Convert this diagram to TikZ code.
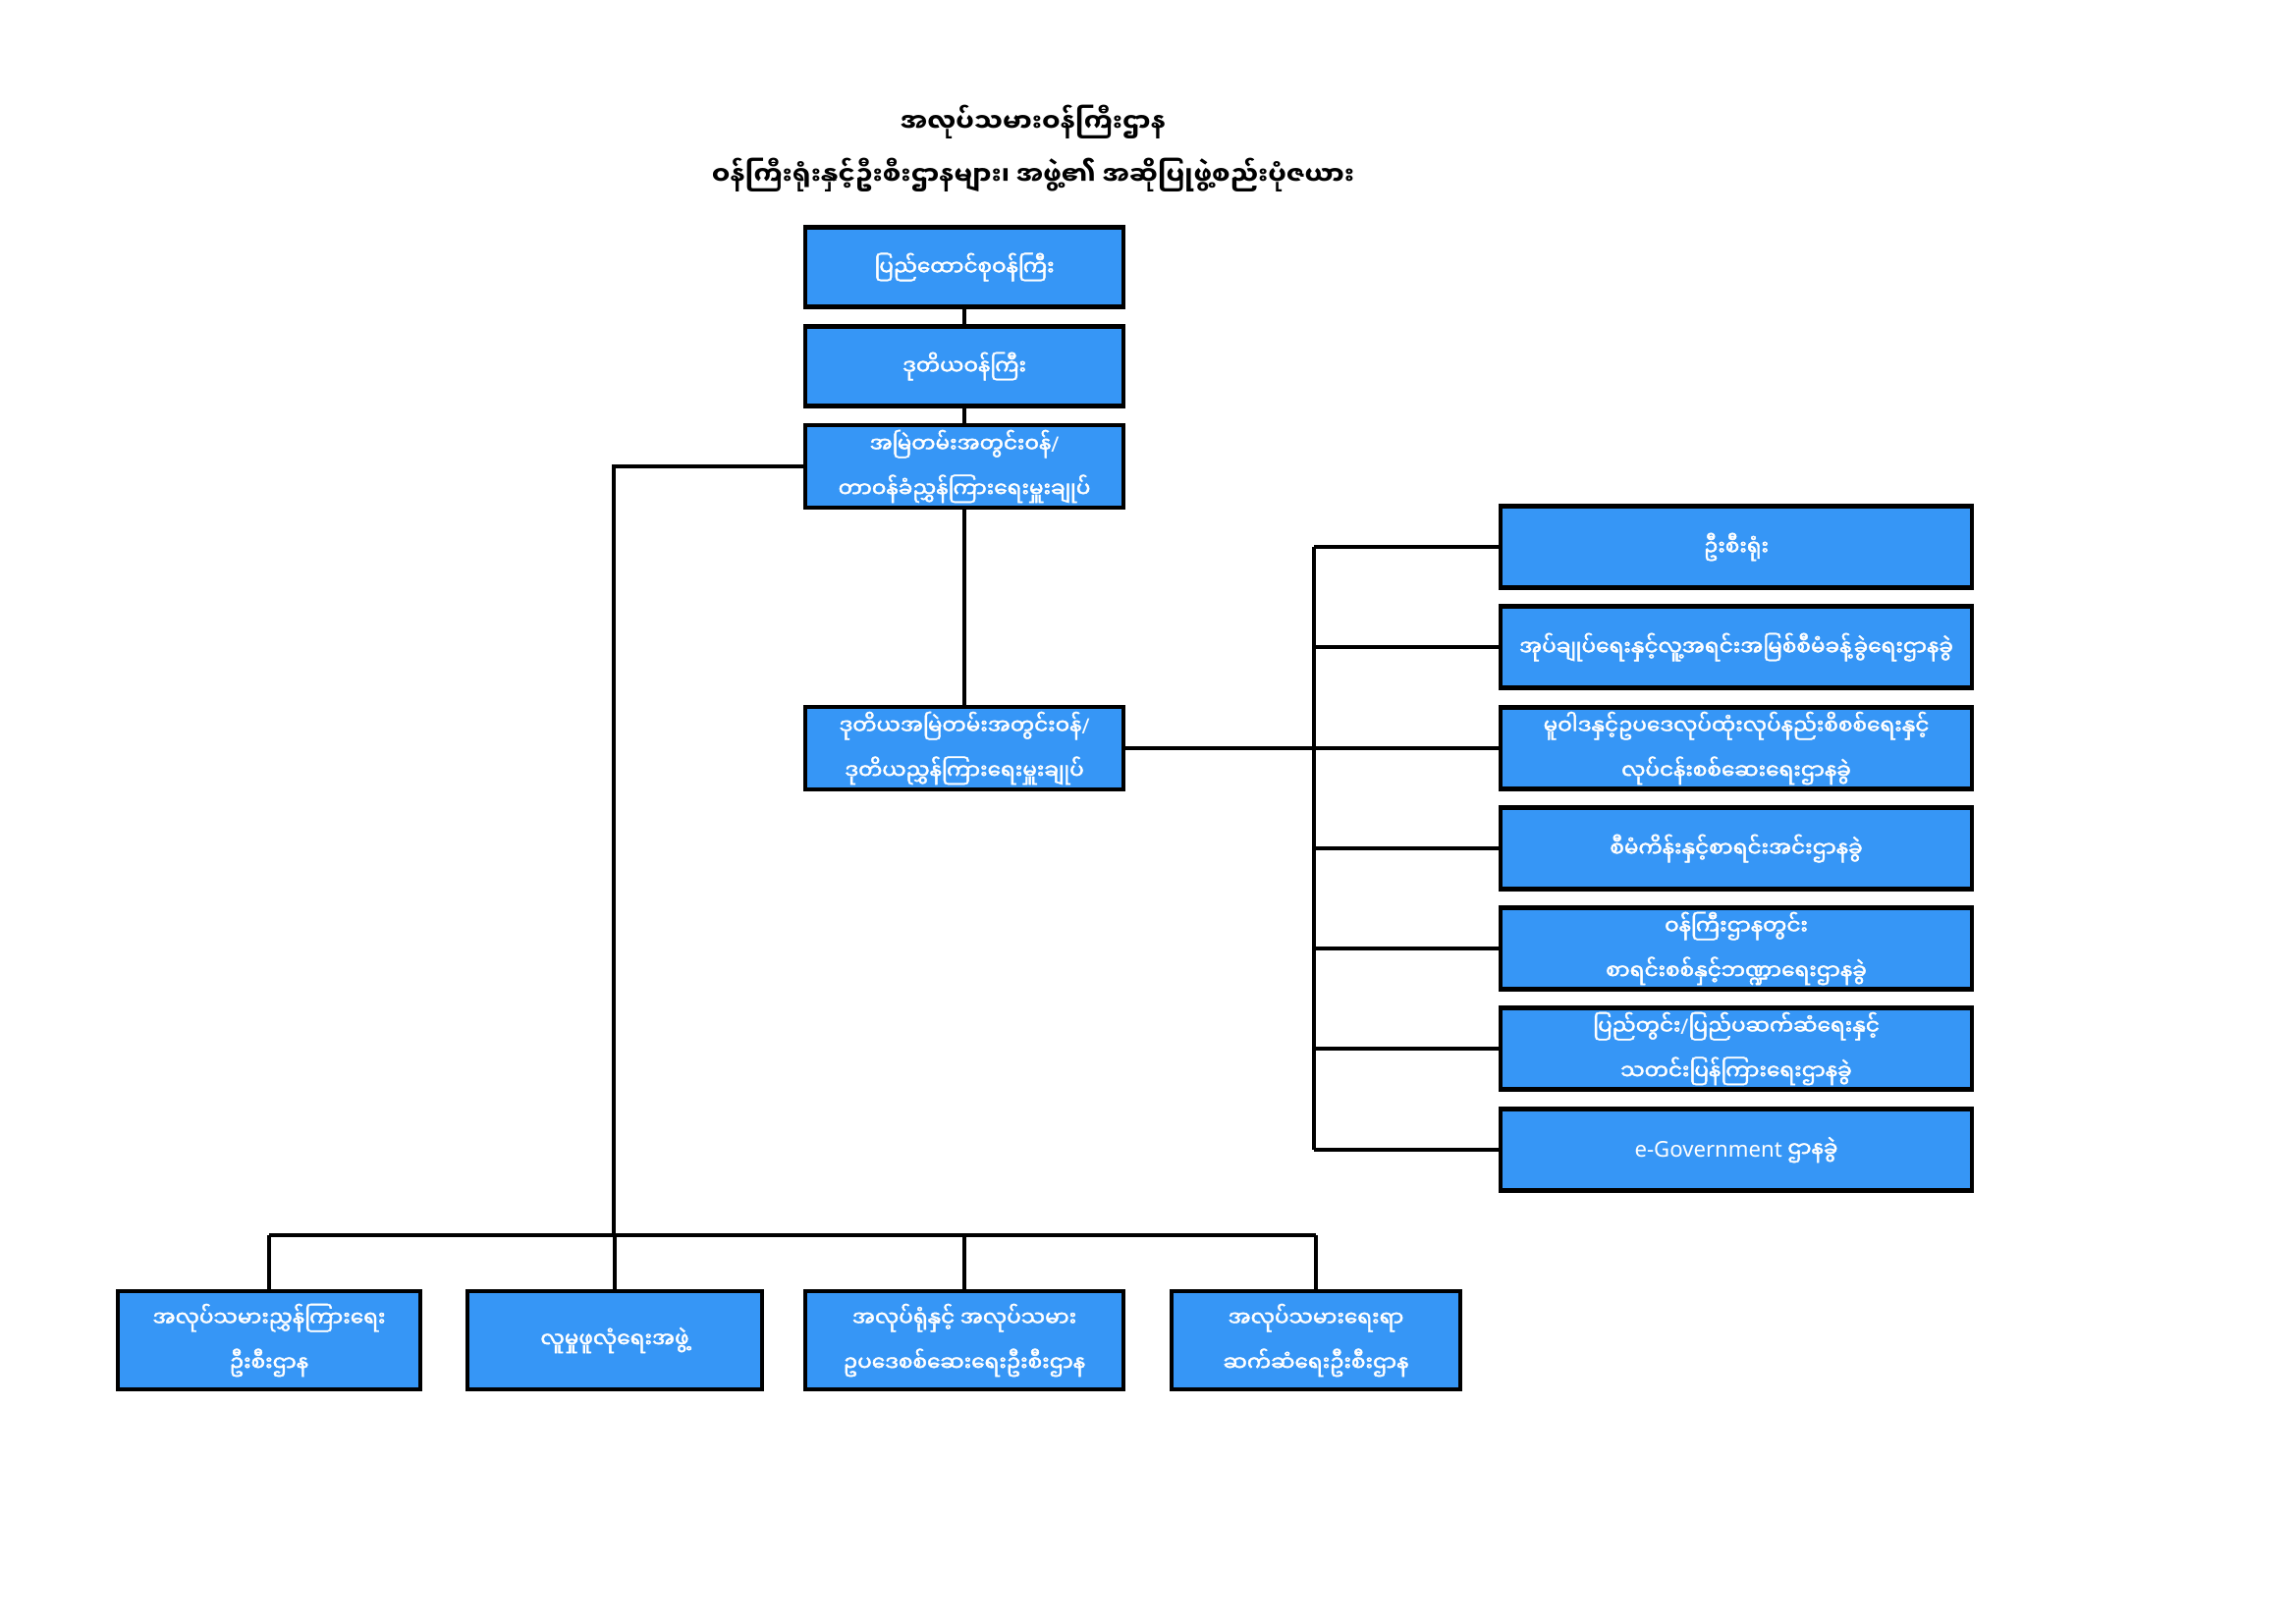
\documentclass[tikz,border=0pt]{standalone}
\usepackage{fontspec}
\setmainfont{Noto Sans}
\newfontfamily\mmfont[Script=Myanmar]{Noto Sans Myanmar UI}
\newfontfamily\mmboxfont[Script=Myanmar,FakeBold=2]{Noto Sans Myanmar UI}
\usepackage{xcolor}
\usetikzlibrary{positioning}
\definecolor{boxblue}{RGB}{54,150,246}
\newcommand{\slsh}{{\normalfont/}}
\tikzset{font={\mmfont\fontsize{7.8pt}{16.5pt}\selectfont}}

\begin{document}
\begin{tikzpicture}[x=0.0127cm,y=-0.0127cm,
office/.style={draw=black,line width=1.5pt,fill=boxblue,text=white,align=center,inner sep=0pt,
  font={\mmboxfont\fontsize{7.8pt}{16.5pt}\selectfont},minimum width=4.11cm,minimum height=1.03cm},
dept/.style={office,minimum width=6.1cm,minimum height=1.055cm},
bureau/.style={office,minimum height=1.26cm},
link/.style={line width=1.4pt}
]
\useasboundingbox (0,0) rectangle (2338,1653);

\node[font={\mmfont\bfseries\fontsize{9.4pt}{19.4pt}\selectfont},align=center] (title) at (1052,151)
  {အလုပ်သမားဝန်ကြီးဌာန\\ဝန်ကြီးရုံးနှင့်ဦးစီးဌာနများ၊ အဖွဲ့၏ အဆိုပြုဖွဲ့စည်းပုံဇယား};

\node[office] (union) at (982,272) {ပြည်ထောင်စုဝန်ကြီး};
\node[office] (deputy) at (982,373) {ဒုတိယဝန်ကြီး};
\node[office,minimum height=1.06cm] (perm) at (982,475) {အမြဲတမ်းအတွင်းဝန်\slsh\\တာဝန်ခံညွှန်ကြားရေးမှူးချုပ်};
\node[office,minimum height=1.06cm] (dperm) at (982,762) {ဒုတိယအမြဲတမ်းအတွင်းဝန်\slsh\\ဒုတိယညွှန်ကြားရေးမှူးချုပ်};

\node[dept] (r1) at (1768,557) {ဦးစီးရုံး};
\node[dept] (r2) at (1768,659) {အုပ်ချုပ်ရေးနှင့်လူ့အရင်းအမြစ်စီမံခန့်ခွဲရေးဌာနခွဲ};
\node[dept] (r3) at (1768,762) {မူဝါဒနှင့်ဥပဒေလုပ်ထုံးလုပ်နည်းစိစစ်ရေးနှင့်\\လုပ်ငန်းစစ်ဆေးရေးဌာနခွဲ};
\node[dept] (r4) at (1768,864) {စီမံကိန်းနှင့်စာရင်းအင်းဌာနခွဲ};
\node[dept] (r5) at (1768,966) {ဝန်ကြီးဌာနတွင်း\\စာရင်းစစ်နှင့်ဘဏ္ဍာရေးဌာနခွဲ};
\node[dept] (r6) at (1768,1068) {ပြည်တွင်း\slsh ပြည်ပဆက်ဆံရေးနှင့်\\သတင်းပြန်ကြားရေးဌာနခွဲ};
\node[dept] (r7) at (1768,1171) {{\normalfont\fontsize{8pt}{16.5pt}\selectfont\bfseries e-Government} ဌာနခွဲ};

\node[bureau,minimum width=3.91cm] (b1) at (274,1365) {အလုပ်သမားညွှန်ကြားရေး\\ဦးစီးဌာန};
\node[bureau,minimum width=3.81cm] (b2) at (626,1365) {လူမှုဖူလုံရေးအဖွဲ့};
\node[bureau] (b3) at (982,1365) {အလုပ်ရုံနှင့် အလုပ်သမား\\ဥပဒေစစ်ဆေးရေးဦးစီးဌာန};
\node[bureau,minimum width=3.73cm] (b4) at (1340,1365) {အလုပ်သမားရေးရာ\\ဆက်ဆံရေးဦးစီးဌာန};

\coordinate (rbus) at (1338,762);
\coordinate (lbus) at (625,1258);

\draw[link] (union) -- (deputy);
\draw[link] (deputy) -- (perm);
\draw[link] (perm) -- (dperm);
\draw[link] (dperm.east) -- (r3.west);
\draw[link] (r1.west -| rbus) -- (r7.west -| rbus);
\foreach \r in {r1,r2,r4,r5,r6,r7} \draw[link] (\r.west) -- (\r.west -| rbus);

\draw[link] (perm.west) -| (lbus);
\draw[link] (b1.north |- lbus) -- (b4.north |- lbus);
\foreach \b in {b1,b2,b3,b4} \draw[link] (\b.north) -- (\b.north |- lbus);

\end{tikzpicture}
\end{document}
